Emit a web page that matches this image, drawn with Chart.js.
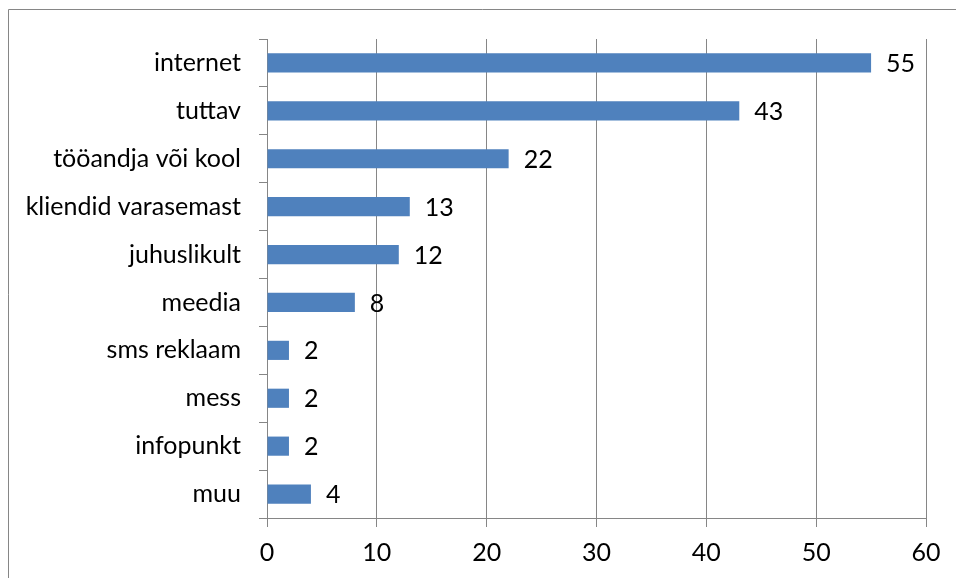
<!DOCTYPE html>
<html>
<head>
<meta charset="utf-8">
<script src="https://cdn.jsdelivr.net/npm/chart.js@4/dist/chart.umd.min.js"></script>
<style>
  html, body { margin: 0; padding: 0; background: #fff; }
  #wrap { width: 956px; height: 578px; position: relative; }
</style>
</head>
<body>
<div id="wrap"><canvas id="myChart" width="956" height="578"></canvas></div>
<script>
const categories = ['internet', 'tuttav', 'tööandja või kool', 'kliendid varasemast', 'juhuslikult', 'meedia', 'sms reklaam', 'mess', 'infopunkt', 'muu'];
const counts = [55, 43, 22, 13, 12, 8, 2, 2, 2, 4];
const xTicks = [0, 10, 20, 30, 40, 50, 60];

const gray = '#868686';
const font = { family: 'Lato, "Liberation Sans", sans-serif', size: 25 };

// outer frame of the chart object, cut off at right and bottom
const frame = {
  id: 'frame',
  beforeDraw(chart) {
    const ctx = chart.ctx;
    ctx.save();
    ctx.strokeStyle = gray;
    ctx.lineWidth = 1;
    ctx.beginPath();
    ctx.moveTo(8.5, 600);
    ctx.lineTo(8.5, 9.5);
    ctx.lineTo(1000, 9.5);
    ctx.stroke();
    ctx.restore();
  }
};

// value labels just past the end of each bar
const valueLabels = {
  id: 'valueLabels',
  afterDatasetsDraw(chart) {
    const ctx = chart.ctx;
    const meta = chart.getDatasetMeta(0);
    ctx.save();
    ctx.fillStyle = '#000';
    ctx.font = font.size + 'px ' + font.family;
    ctx.textAlign = 'left';
    ctx.textBaseline = 'middle';
    meta.data.forEach((bar, i) => {
      ctx.fillText(String(counts[i]), bar.x + 15, bar.y + 1);
    });
    ctx.restore();
  }
};

const ctx = document.getElementById('myChart').getContext('2d');
const myChart = new Chart(ctx, {
  type: 'bar',
  data: {
    labels: categories,
    datasets: [{
      data: counts,
      backgroundColor: '#4F81BD',
      barPercentage: 0.4,
      categoryPercentage: 1
    }]
  },
  options: {
    indexAxis: 'y',
    responsive: false,
    animation: false,
    layout: { padding: { top: 39, right: 30, bottom: 0, left: 0 } },
    plugins: { legend: { display: false }, tooltip: { enabled: false } },
    scales: {
      x: {
        min: 0,
        max: 60,
        afterBuildTicks(scale) { scale.ticks = xTicks.map(v => ({ value: v })); },
        afterFit(scale) { scale.height = 60; },
        grid: { color: gray, lineWidth: 1, tickLength: 9, drawTicks: true },
        border: { color: gray, width: 1 },
        ticks: { color: '#000', font: font, padding: 11 }
      },
      y: {
        afterFit(scale) { scale.width = 267; },
        grid: { color: gray, drawOnChartArea: false, drawTicks: true, tickLength: 8, offset: true },
        border: { color: gray, width: 1 },
        ticks: { color: '#000', font: font, padding: 18 }
      }
    }
  },
  plugins: [frame, valueLabels]
});
</script>
</body>
</html>
